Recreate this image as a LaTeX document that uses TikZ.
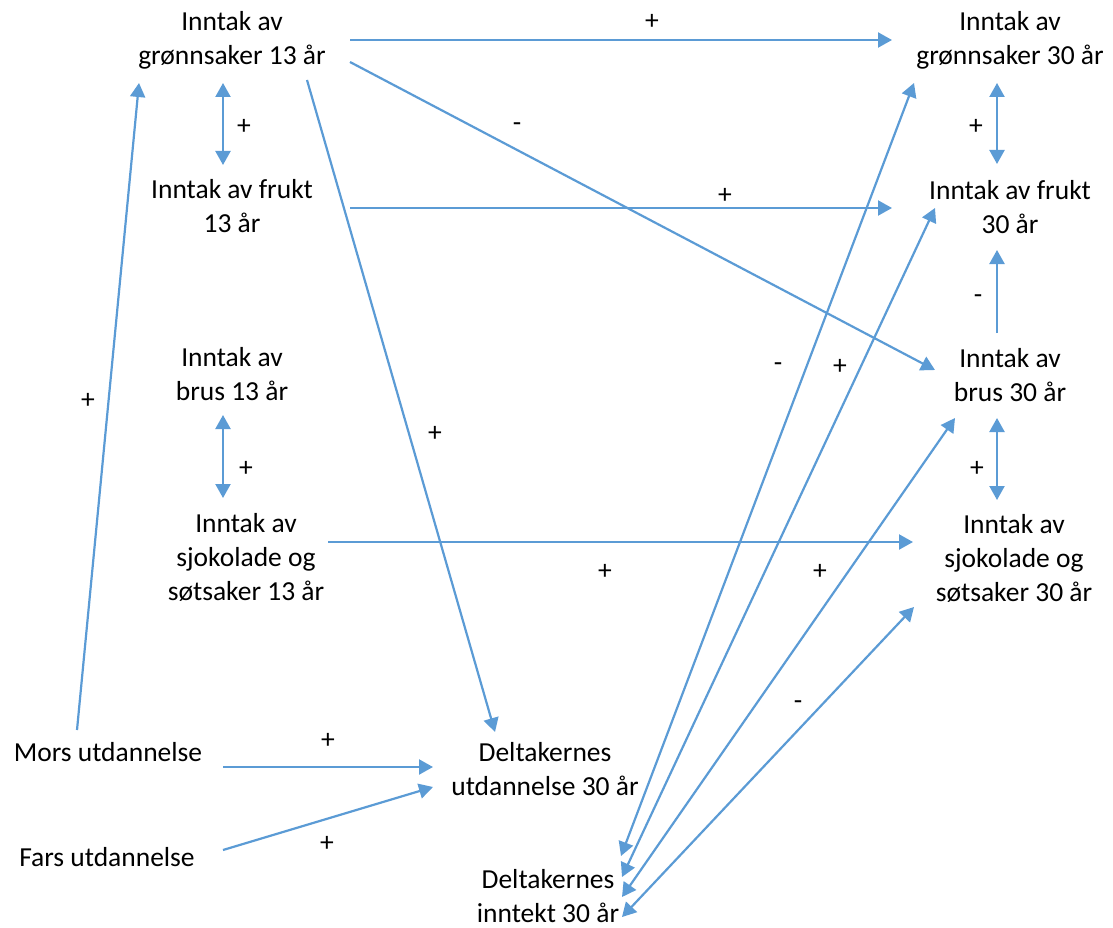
\documentclass[tikz,border=0pt]{standalone}
\usepackage{fontspec}
\setmainfont{Carlito}
\usetikzlibrary{arrows.meta,calc}
\definecolor{arrblue}{HTML}{5B9BD5}
\tikzset{
  box/.style={align=center,inner sep=0pt,font=\fontsize{27.5}{34}\selectfont},
  lab/.style={inner sep=0pt,font=\fontsize{27.5}{34}\selectfont},
  conn/.style={draw=arrblue,line width=2.2pt,-{Triangle[length=14pt,width=15pt]}},
  biconn/.style={draw=arrblue,line width=2.2pt,{Triangle[length=14pt,width=15pt]}-{Triangle[length=14pt,width=15pt]}}
}
\begin{document}
\begin{tikzpicture}[x=1pt,y=-1pt]
\useasboundingbox (0,0) rectangle (1113,928);
% nodes
\node[box] (g13) at (232,40) {Inntak av\\grønnsaker 13 år};
\node[box] (f13) at (232,206) {Inntak av frukt\\13 år};
\node[box] (b13) at (232,374) {Inntak av\\brus 13 år};
\node[box] (s13) at (246,557) {Inntak av\\sjokolade og\\søtsaker 13 år};
\node[box] (mors) at (108,752) {Mors utdannelse};
\node[box] (fars) at (107,857) {Fars utdannelse};
\node[box] (dut) at (545,769) {Deltakernes\\utdannelse 30 år};
\node[box] (dinn) at (548,896) {Deltakernes\\inntekt 30 år};
\node[box] (g30) at (1010,40) {Inntak av\\grønnsaker 30 år};
\node[box] (f30) at (1010,207) {Inntak av frukt\\30 år};
\node[box] (b30) at (1010,375) {Inntak av\\brus 30 år};
\node[box] (s30) at (1014,558) {Inntak av\\sjokolade og\\søtsaker 30 år};
% connectors
\draw[conn] ($(g13)+(118,0)$) -- ($(g30)+(-118,0)$);
\draw[conn] ($(g13)+(118,22)$) -- ($(b30)+(-75,-5)$);
\draw[conn] ($(g13)+(75,40)$) -- ($(dut)+(-50,-37)$);
\draw[biconn] ($(g13)+(-9,43)$) -- ($(f13)+(-9,-41)$);
\draw[conn] ($(f13)+(118,2)$) -- ($(f30)+(-118,1)$);
\draw[biconn] ($(b13)+(-9,41)$) -- ($(s13)+(-23,-59)$);
\draw[conn] ($(s13)+(82,-15)$) -- ($(s30)+(-101,-16)$);
\draw[conn] ($(mors)+(-31,-22)$) -- ($(g13)+(-93,43)$);
\draw[conn] ($(mors)+(115,15)$) -- ($(dut)+(-112,-2)$);
\draw[conn] ($(fars)+(116,-7)$) -- ($(dut)+(-112,18)$);
\draw[biconn] ($(g30)+(-13,43)$) -- ($(f30)+(-13,-43)$);
\draw[conn] ($(b30)+(-13,-42)$) -- ($(f30)+(-13,43)$);
\draw[biconn] ($(b30)+(-13,43)$) -- ($(s30)+(-17,-58)$);
\draw[biconn] ($(dinn)+(73,-40)$) -- ($(g30)+(-96,43)$);
\draw[biconn] ($(dinn)+(74,-19)$) -- ($(f30)+(-75,1)$);
\draw[biconn] ($(dinn)+(74,1)$) -- ($(b30)+(-55,43)$);
\draw[biconn] ($(dinn)+(74,21)$) -- ($(s30)+(-100,49)$);
% labels
\node[lab] (l1) at (652,22) {+};
\node[lab] (l2) at (517,127) {-};
\node[lab] (l3) at (435,434) {+};
\node[lab] (l4) at (244,127) {+};
\node[lab] (l5) at (725,196) {+};
\node[lab] (l6) at (246,469) {+};
\node[lab] (l7) at (605,572) {+};
\node[lab] (l8) at (88,401) {+};
\node[lab] (l9) at (328,741) {+};
\node[lab] (l10) at (327,844) {+};
\node[lab] (l11) at (976,127) {+};
\node[lab] (l12) at (978,299) {-};
\node[lab] (l13) at (977,469) {+};
\node[lab] (l14) at (778,367) {-};
\node[lab] (l15) at (840,367) {+};
\node[lab] (l16) at (820,572) {+};
\node[lab] (l17) at (798,705) {-};
\end{tikzpicture}
\end{document}
